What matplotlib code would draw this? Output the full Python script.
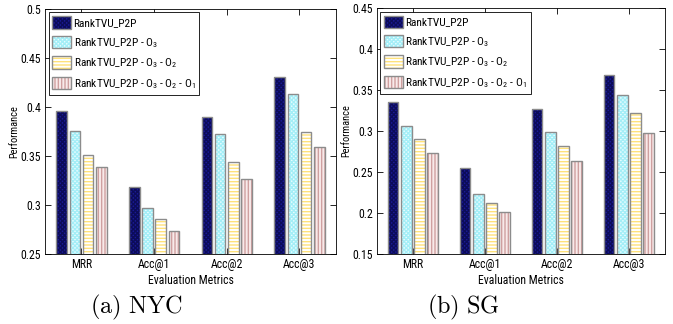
import numpy as np
import matplotlib
matplotlib.use("Agg")
import matplotlib.pyplot as plt
from matplotlib import font_manager as fm

# narrow sans if we have one, otherwise plain Liberation Sans
installed = {f.name for f in fm.fontManager.ttflist}
narrow = [n for n in ['Liberation Sans Narrow', 'Roboto Condensed', 'Arial Narrow',
                      'Open Sans Condensed', 'DejaVu Sans Condensed'] if n in installed]
sans = narrow[0] if narrow else 'Liberation Sans'
plt.rcParams['font.family'] = [sans, 'DejaVu Sans']
plt.rcParams['mathtext.fontset'] = 'custom'
plt.rcParams['mathtext.rm'] = sans
plt.rcParams['hatch.linewidth'] = 1.0
base = 8.5 if narrow else 7.6

# ---------------- data
metrics = ['MRR', 'Acc@1', 'Acc@2', 'Acc@3']
series = ['RankTVU_P2P', 'RankTVU_P2P - O$_3$', 'RankTVU_P2P - O$_3$ - O$_2$',
          'RankTVU_P2P - O$_3$ - O$_2$ - O$_1$']

nyc_full = [0.396, 0.318, 0.390, 0.431]
nyc_o3 = [0.376, 0.297, 0.372, 0.413]
nyc_o32 = [0.351, 0.286, 0.344, 0.375]
nyc_o321 = [0.339, 0.2735, 0.3265, 0.359]

sg_full = [0.335, 0.2544, 0.327, 0.368]
sg_o3 = [0.3056, 0.2232, 0.299, 0.3443]
sg_o32 = [0.290, 0.2122, 0.282, 0.3216]
sg_o321 = [0.2732, 0.2012, 0.263, 0.2975]

nyc_ticks = [0.25, 0.3, 0.35, 0.4, 0.45, 0.5]
sg_ticks = [0.15, 0.2, 0.25, 0.3, 0.35, 0.4, 0.45]

# ---------------- styles (face, hatch colour, hatch)
styles = [('#1a1a96', '#0c0c5a', 'xxxxxxxx'),
          ('#e8fcff', '#a4eef7', 'xxxxxxxx'),
          ('#ffffff', '#ffe27a', '-----'),
          ('#f8eaea', '#cfa0a0', '|||||')]
edge_gray = '#8c8c8c'


def draw_panel(ax, values, yticks, caption, caption_x):
    x = np.arange(1, len(metrics) + 1)
    step = 0.182
    width = 0.145
    handles = []
    for i, vals in enumerate(values):
        face, hcol, hatch = styles[i]
        pos = x + (i - 1.5) * step
        b1 = ax.bar(pos, vals, width, facecolor=face, edgecolor=hcol,
                    hatch=hatch, linewidth=0, zorder=2)
        b2 = ax.bar(pos, vals, width, facecolor='none', edgecolor=edge_gray,
                    linewidth=1.0, zorder=3)
        handles.append((b1, b2))
    ax.set_xlim(0.5, 4.5)
    ax.set_ylim(yticks[0], yticks[-1])
    ax.set_xticks(x)
    ax.set_xticklabels(metrics, fontsize=base)
    ax.set_yticks(yticks)
    ax.set_yticklabels(['%g' % t for t in yticks], fontsize=base)
    ax.tick_params(direction='in', top=True, right=True, length=4, width=0.6, pad=3)
    for s in ax.spines.values():
        s.set_linewidth(0.6)
    ax.set_xlabel('Evaluation Metrics', fontsize=base, labelpad=2)
    ax.set_ylabel('Performance', fontsize=base - 1, labelpad=1)
    leg = ax.legend(handles, series, loc='upper left', fontsize=base - 0.3,
                    handlelength=1.65, handleheight=1.3, handletextpad=0.2,
                    borderpad=0.35, labelspacing=0.6, fancybox=False,
                    framealpha=1, edgecolor='black', borderaxespad=0.3)
    leg.get_frame().set_linewidth(0.6)
    fig.text(caption_x, 0.052, caption, ha='center', va='center', fontsize=17.5,
             family='DejaVu Serif', math_fontfamily='cm')


fig = plt.figure(figsize=(6.73, 3.24), dpi=100)
ax1 = fig.add_axes([0.067, 0.216, 0.432, 0.756])
ax2 = fig.add_axes([0.560, 0.216, 0.428, 0.759])

draw_panel(ax1, [nyc_full, nyc_o3, nyc_o32, nyc_o321], nyc_ticks,
           r'$\mathrm{(a)\ NYC}$', 0.202)
draw_panel(ax2, [sg_full, sg_o3, sg_o32, sg_o321], sg_ticks,
           r'$\mathrm{(b)\ SG}$', 0.688)

fig.savefig('out.png', dpi=100)
